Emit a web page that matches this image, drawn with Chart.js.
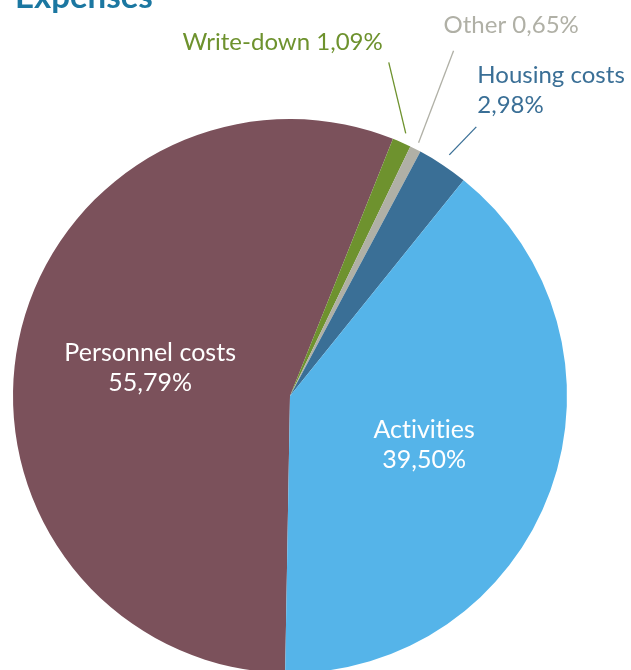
<!DOCTYPE html>
<html>
<head>
<meta charset="utf-8">
<script src="https://cdn.jsdelivr.net/npm/chart.js@4"></script>
<style>
  html, body { margin: 0; padding: 0; background: #fff; overflow: hidden; }
  #wrap { position: absolute; left: 0; top: 0; width: 631px; height: 680px; }
</style>
</head>
<body>
<div id="wrap"><canvas id="expChart" width="631" height="680"></canvas></div>
<script>
// Expense categories, clockwise starting just after the bottom of the pie
const categories = ['Personnel costs', 'Write-down', 'Other', 'Housing costs', 'Activities'];
const shares = [55.79, 1.09, 0.65, 2.98, 39.50];
const shareLabels = ['55,79%', '1,09%', '0,65%', '2,98%', '39,50%'];
const sliceColors = ['#7b515b', '#6e922e', '#b0b0a6', '#3a6f96', '#55b4e9'];

const FONT = 'Lato, "Open Sans", sans-serif';

// labels inside the big slices, callouts with leader lines for the small ones
const labelPlugin = {
    id: 'sliceLabels',
    afterDatasetsDraw(chart) {
        const ctx = chart.ctx;
        const arcs = chart.getDatasetMeta(0).data;
        const callouts = {
            1: { gap: 10, dx: -17, dy: -71, align: 'right', tx: -6, lines: [[categories[1] + ' ' + shareLabels[1], -12]] },
            2: { gap: 7, dx: 35, dy: -92, align: 'left', tx: -10, lines: [[categories[2] + ' ' + shareLabels[2], -18]] },
            3: { gap: 12, dx: 27, dy: -28, align: 'left', tx: 1, lines: [[categories[3], -44], [shareLabels[3], -14]] }
        };
        ctx.save();
        // small spacing keeps the "ti" ligature off
        if ('letterSpacing' in ctx) ctx.letterSpacing = '0.01px';
        arcs.forEach((arc, i) => {
            const mid = (arc.startAngle + arc.endAngle) / 2;
            const r = arc.outerRadius;
            if (i === 0 || i === 4) {
                const px = arc.x + Math.cos(mid) * r * 0.515;
                const py = arc.y + Math.sin(mid) * r * 0.515;
                ctx.fillStyle = '#ffffff';
                ctx.font = '25px ' + FONT;
                ctx.textAlign = 'center';
                ctx.textBaseline = 'alphabetic';
                ctx.fillText(categories[i], px, py - 7);
                ctx.fillText(shareLabels[i], px, py + 23);
                return;
            }
            const c = callouts[i];
            const sx = arc.x + Math.cos(mid) * (r + c.gap);
            const sy = arc.y + Math.sin(mid) * (r + c.gap);
            const ex = sx + c.dx;
            const ey = sy + c.dy;
            ctx.strokeStyle = sliceColors[i];
            ctx.lineWidth = 1.3;
            ctx.beginPath();
            ctx.moveTo(sx, sy);
            ctx.lineTo(ex, ey);
            ctx.stroke();
            ctx.fillStyle = sliceColors[i];
            ctx.font = '24px ' + FONT;
            ctx.textAlign = c.align;
            ctx.textBaseline = 'alphabetic';
            c.lines.forEach(([txt, off]) => ctx.fillText(txt, ex + c.tx, ey + off));
        });
        // title, partly cut off by the top edge
        ctx.fillStyle = '#1b77a1';
        ctx.font = 'bold 33px ' + FONT;
        ctx.textAlign = 'left';
        ctx.fillText('Expenses', 15, 8);
        ctx.restore();
    }
};

new Chart(document.getElementById('expChart').getContext('2d'), {
    type: 'pie',
    data: {
        labels: categories,
        datasets: [{
            data: shares,
            backgroundColor: sliceColors,
            borderWidth: 0
        }]
    },
    options: {
        responsive: false,
        animation: false,
        devicePixelRatio: 1,
        rotation: 181,
        layout: { padding: { left: 13, right: 64, top: 119, bottom: 7 } },
        plugins: {
            legend: { display: false },
            tooltip: { enabled: false }
        }
    },
    plugins: [labelPlugin]
});
</script>
</body>
</html>
